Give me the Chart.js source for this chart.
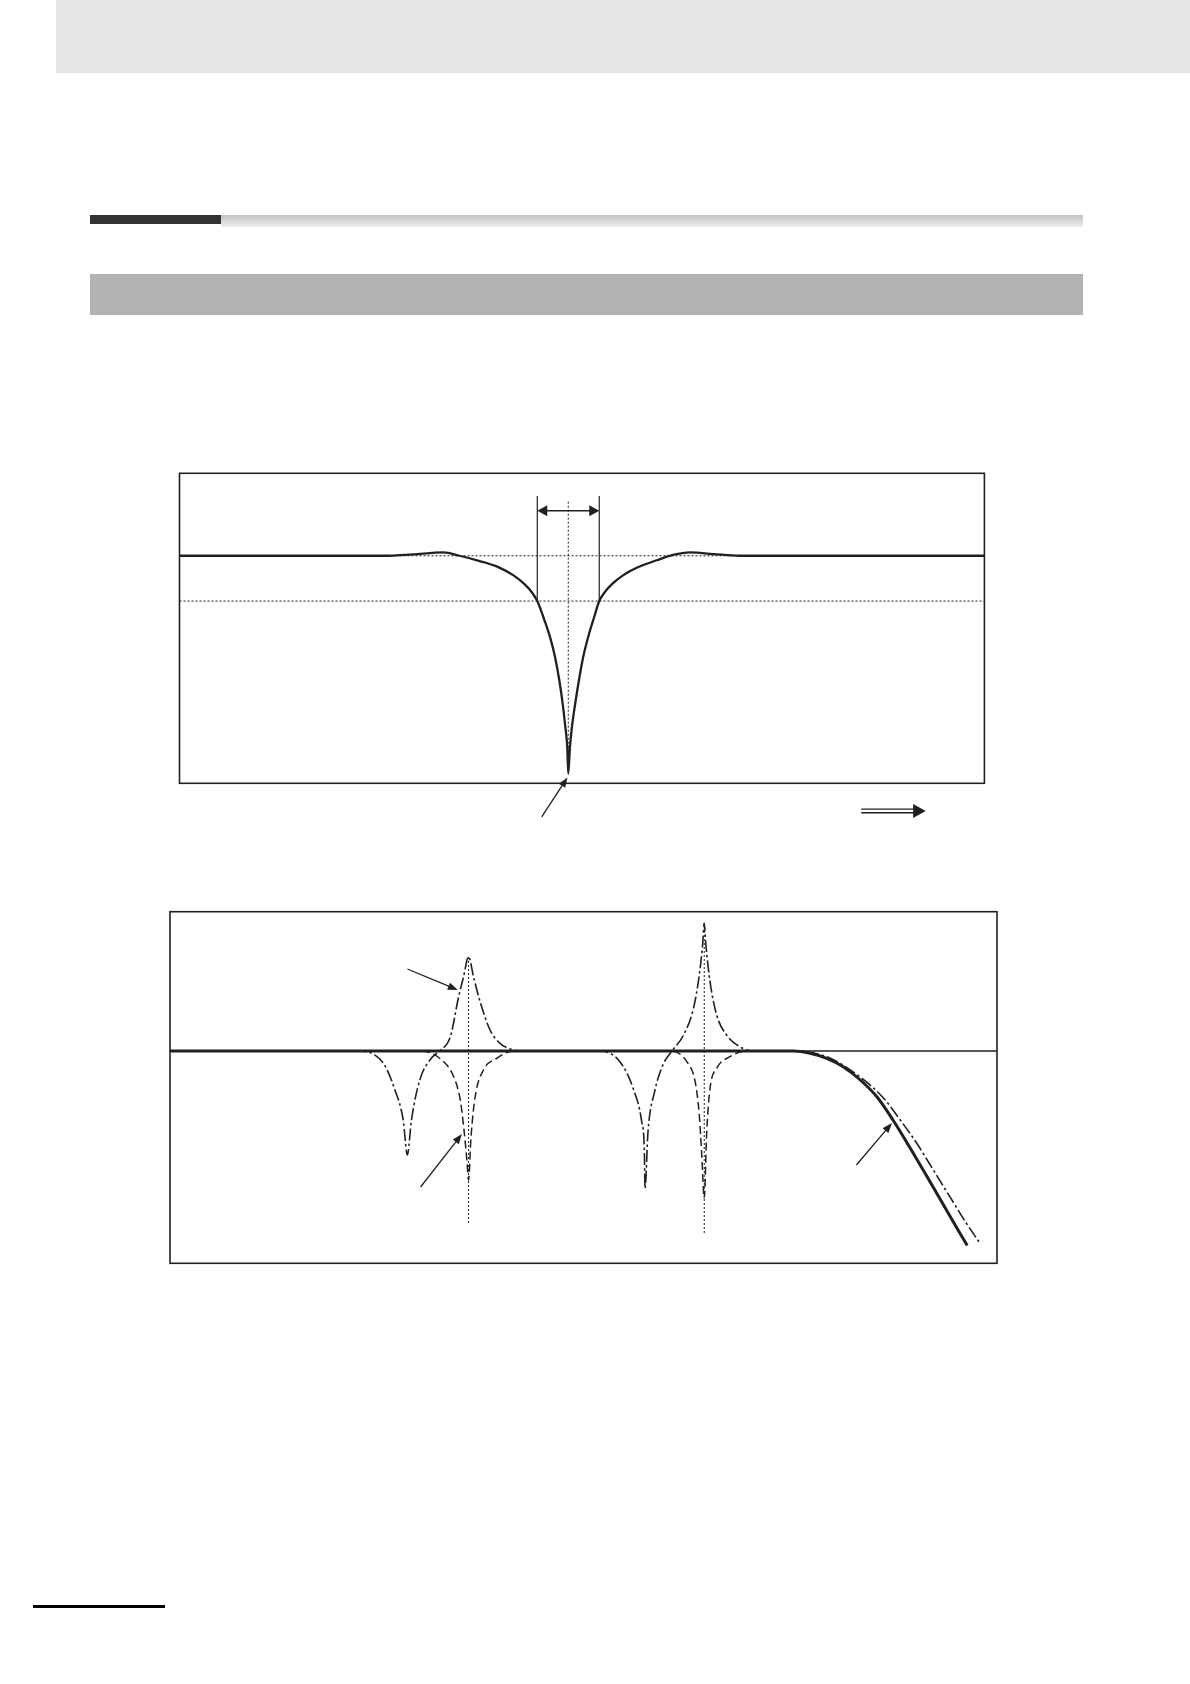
<!DOCTYPE html>
<html>
<head>
<meta charset="utf-8">
<script src="https://cdn.jsdelivr.net/npm/chart.js@4.4.1/dist/chart.umd.min.js"></script>
<style>
  body { margin: 0; width: 1190px; height: 1684px; position: relative; background: #fff; overflow: hidden; }
  .blk { position: absolute; }
  canvas { position: absolute; }
</style>
</head>
<body>
<div class="blk" style="left:56px;top:0;width:1134px;height:73px;background:#e6e6e6"></div>
<div class="blk" style="left:90px;top:215px;width:131px;height:9px;background:#333"></div>
<div class="blk" style="left:221px;top:215px;width:862px;height:12px;background:linear-gradient(#c4c4c4,#ededed)"></div>
<div class="blk" style="left:90px;top:274px;width:993px;height:41px;background:#b3b3b3"></div>
<div class="blk" style="left:33px;top:1605px;width:132px;height:3px;background:#000"></div>

<canvas id="c1" width="860" height="380" style="left:150px;top:460px"></canvas>
<canvas id="c2" width="860" height="380" style="left:150px;top:900px"></canvas>

<script>
// ---- chart 1: notch filter response ----
const notchX = [0, 26.1, 29.0, 32.8, 34.8, 37.3, 39.8, 41.5, 42.8, 43.75, 44.45, 45.19, 46.02, 46.65, 47.18, 47.6, 47.93, 48.17, 48.3,
                48.51, 48.76, 49.17, 49.63, 50.16, 50.78, 51.53, 52.15, 52.85, 53.8, 55.1, 56.8, 59.3, 61.3, 63.4, 66.3, 69.6, 100];
const notchY = [0, 0, 0.09, 0.22, 0, -0.35, -0.8, -1.3, -1.85, -2.4, -3.0, -4.04, -5.36, -6.69, -8.23, -9.77, -11.32, -12.65, -14.41,
                -12.65, -11.32, -9.77, -8.23, -6.69, -5.36, -4.04, -3.0, -2.4, -1.85, -1.3, -0.8, -0.3, 0.05, 0.22, 0.11, 0, 0];
const refLevels1 = [0, -3];          // 0 dB and -3 dB dotted lines
const notchFreq = 48.3;
const bandEdges = [44.45, 52.15];    // -3 dB width

// ---- chart 2: resonance, notch and compensated response ----
const plantX = [0, 22.6, 25.8, 27.2, 28.2, 28.7, 29.2, 30.2, 31.6, 32.6, 33.9, 34.9, 35.5, 36.1, 36.7, 37.5, 38.7, 39.9, 41.5, 42.3,
                52.0, 54.4, 56.0, 57.04, 57.35, 57.44, 57.8, 58.6, 59.6, 60.7, 62.1, 63.3, 64.0, 64.4, 64.6, 64.8, 65.3, 66.1, 67.3, 68.9, 70.5,
                75.4, 79.4, 83.4, 86.3, 88.3, 90.3, 92.3, 94.3, 96.3, 98.0];
const plantY = [0, 0, -1.23, -3.9, -6.9, -10.4, -6.9, -2.9, -0.73, 0, 1.43, 5.43, 7.43, 9.43, 7.43, 4.93, 2.1, 0.77, 0.1, 0,
                0, -1.07, -3.73, -7.07, -9.73, -13.73, -8.07, -4.07, -1.4, 0, 1.6, 4.27, 7.6, 10.6, 12.77, 10.6, 6.93, 3.6, 1.6, 0.43, 0,
                0, -0.57, -2.57, -4.73, -6.9, -9.23, -11.9, -14.57, -17.23, -19.3];
const filterX = [0, 30.2, 32.6, 34.3, 35.1, 35.55, 35.9, 36.1, 36.4, 36.9, 37.9, 39.5, 41.5,
                 60.5, 62.5, 63.5, 64.0, 64.3, 64.6, 64.9, 65.3, 66.1, 67.7, 69.7, 75];
const filterY = [0, 0, -0.73, -2.57, -4.9, -7.9, -10.9, -12.9, -8.57, -4.57, -1.9, -0.73, 0,
                 0, -1.07, -3.07, -6.4, -10.4, -14.73, -8.07, -3.73, -1.73, -0.57, 0, 0];
const compX = [0, 75.4, 77.4, 79.4, 81.4, 83.4, 85.5, 87.5, 89.5, 91.5, 93.5, 95.5, 96.4];
const compY = [0, 0, -0.23, -0.73, -1.57, -2.85, -4.6, -7.0, -9.7, -12.5, -15.35, -18.2, -19.45];
const resFreqs = [36.1, 64.6];
const resTop = [9.4, 12.8];
const resBottom = [-17.4, -18.2];

const INK = '#231f20';

function pts(xs, ys) { return xs.map((x, i) => ({ x, y: ys[i] })); }
function curve(data, extra) {
  return Object.assign({ data, borderColor: INK, pointRadius: 0, fill: false, cubicInterpolationMode: 'monotone' }, extra);
}
function straight(data, extra) {
  return Object.assign({ data, borderColor: INK, pointRadius: 0, fill: false, tension: 0 }, extra);
}

function head(ctx, x1, y1, x2, y2, len, half) {
  const a = Math.atan2(y2 - y1, x2 - x1), c = Math.cos(a), s = Math.sin(a);
  ctx.beginPath();
  ctx.moveTo(x2, y2);
  ctx.lineTo(x2 - len * c + half * s, y2 - len * s - half * c);
  ctx.lineTo(x2 - len * c - half * s, y2 - len * s + half * c);
  ctx.closePath();
  ctx.fill();
}
function pointer(ctx, x1, y1, x2, y2, len, half) {
  const a = Math.atan2(y2 - y1, x2 - x1);
  ctx.beginPath();
  ctx.moveTo(x1, y1);
  ctx.lineTo(x2 - len * 0.8 * Math.cos(a), y2 - len * 0.8 * Math.sin(a));
  ctx.stroke();
  head(ctx, x1, y1, x2, y2, len, half);
}

// frame + arrows, positions given in data units
const decor = {
  id: 'decor',
  afterDraw(chart, args, opts) {
    const { ctx, chartArea: a, scales: { x, y } } = chart;
    ctx.save();
    ctx.strokeStyle = INK; ctx.fillStyle = INK;
    ctx.lineWidth = 1.6;
    ctx.strokeRect(a.left, a.top, a.right - a.left, a.bottom - a.top);
    ctx.lineWidth = 1.3;
    (opts.pointers || []).forEach(p => {
      pointer(ctx, x.getPixelForValue(p[0]), y.getPixelForValue(p[1]), x.getPixelForValue(p[2]), y.getPixelForValue(p[3]), 10, 3.8);
    });
    if (opts.span) {
      const [s0, s1, sy] = opts.span;
      const px0 = x.getPixelForValue(s0), px1 = x.getPixelForValue(s1), py = y.getPixelForValue(sy);
      ctx.lineWidth = 1.5;
      ctx.beginPath(); ctx.moveTo(px0 + 6, py); ctx.lineTo(px1 - 6, py); ctx.stroke();
      head(ctx, px1, py, px0, py, 10, 5.5);
      head(ctx, px0, py, px1, py, 10, 5.5);
    }
    if (opts.big) {
      const [b0, b1, by] = opts.big;
      const px0 = x.getPixelForValue(b0), px1 = x.getPixelForValue(b1), py = y.getPixelForValue(by);
      ctx.lineWidth = 1.3;
      [-1.8, 1.8].forEach(d => { ctx.beginPath(); ctx.moveTo(px0, py + d); ctx.lineTo(px1 - 10, py + d); ctx.stroke(); });
      head(ctx, px0, py, px1, py, 12.5, 7);
    }
    ctx.restore();
  }
};

function baseOptions(pad, xr, yr, decorOpts) {
  return {
    responsive: false,
    animation: false,
    layout: { padding: pad },
    plugins: { legend: { display: false }, tooltip: { enabled: false }, decor: decorOpts },
    scales: {
      x: { type: 'linear', display: false, min: xr[0], max: xr[1] },
      y: { type: 'linear', display: false, min: yr[0], max: yr[1] }
    }
  };
}

new Chart(document.getElementById('c1'), {
  type: 'line',
  data: {
    datasets: [
      curve(pts(notchX, notchY), { borderWidth: 2.3, order: 0 }),
      ...refLevels1.map(v => straight(pts([0, 100], [v, v]), { borderWidth: 1, borderDash: [2, 2], order: 2 })),
      straight(pts([notchFreq, notchFreq], [3.58, -14.5]), { borderWidth: 1, borderDash: [2, 2], order: 2 }),
      ...bandEdges.map(v => straight(pts([v, v], [3.95, -3]), { borderWidth: 1.2, order: 1 }))
    ]
  },
  options: baseOptions({ left: 29.5, right: 25.6, top: 13.3, bottom: 56.7 }, [0, 100], [-15.07, 5.46], {
    pointers: [[45.0, -17.3, 48.2, -14.68]],
    span: [bandEdges[0], bandEdges[1], 2.98],
    big: [84.7, 92.7, -16.9]
  }),
  plugins: [decor]
});

new Chart(document.getElementById('c2'), {
  type: 'line',
  data: {
    datasets: [
      curve(pts(compX, compY), { borderWidth: 3, order: 0 }),
      curve(pts(filterX, filterY), { borderWidth: 1.5, borderDash: [8, 4], order: 1 }),
      curve(pts(plantX, plantY), { borderWidth: 1.6, borderDash: [12, 3, 2.5, 3], order: 2 }),
      straight(pts([0, 100], [0, 0]), { borderWidth: 1.3, order: 3 }),
      ...resFreqs.map((f, i) => straight(pts([f, f], [resTop[i], resBottom[i]]), { borderWidth: 1, borderDash: [2, 2], order: 4 }))
    ]
  },
  options: baseOptions({ left: 20, right: 13, top: 11.7, bottom: 16.7 }, [0, 100], [-21.23, 13.93], {
    pointers: [[28.7, 8.2, 34.8, 6.1], [30.3, -13.6, 35.3, -8.3], [83.0, -11.4, 87.3, -7.2]]
  }),
  plugins: [decor]
});
</script>
</body>
</html>
